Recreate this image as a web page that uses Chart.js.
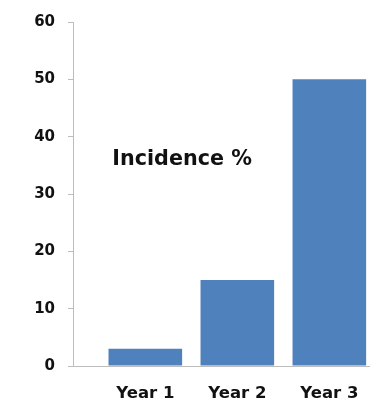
<!DOCTYPE html>
<html>
<head>
<meta charset="utf-8">
<script src="https://cdn.jsdelivr.net/npm/chart.js@4"></script>
<style>
  html, body { margin: 0; padding: 0; background: #ffffff; }
  #wrap { width: 370px; height: 405px; position: relative; }
</style>
</head>
<body>
<div id="wrap"><canvas id="c"></canvas></div>
<script>
const categories = ['Year 1', 'Year 2', 'Year 3'];
const incidence = [3, 15, 50];
const yTickValues = [0, 10, 20, 30, 40, 50, 60];
const annotationText = 'Incidence %';

const FONT = "'DejaVu Sans', sans-serif";
const TEXT = '#111111';
const AXIS = '#bdbdbd';

const annotationPlugin = {
  id: 'incidenceLabel',
  afterDatasetsDraw(chart) {
    const { ctx, scales } = chart;
    const x = scales.x.getPixelForValue(0.4);
    const y = scales.y.getPixelForValue(36);
    ctx.save();
    ctx.font = "bold 20.7px " + FONT;
    ctx.fillStyle = TEXT;
    ctx.textAlign = 'center';
    ctx.textBaseline = 'middle';
    ctx.fillText(annotationText, x, y);
    ctx.restore();
  }
};

new Chart(document.getElementById('c'), {
  type: 'bar',
  data: {
    datasets: [{
      data: incidence.map((v, i) => ({ x: i, y: v })),
      backgroundColor: '#4f81bd',
      borderWidth: 0,
      categoryPercentage: 1,
      barPercentage: 0.8
    }]
  },
  options: {
    responsive: true,
    maintainAspectRatio: false,
    animation: false,
    layout: { padding: { top: 20, right: 0, bottom: 0, left: 0 } },
    plugins: { legend: { display: false }, tooltip: { enabled: false } },
    scales: {
      x: {
        type: 'linear',
        offset: false,
        bounds: 'data',
        min: -0.786,
        max: 2.442,
        grid: { display: false },
        border: { display: true, color: AXIS, width: 1 },
        afterBuildTicks(scale) { scale.ticks = categories.map((c, i) => ({ value: i })); },
        ticks: {
          autoSkip: false,
          maxRotation: 0,
          padding: 10,
          color: TEXT,
          font: { family: FONT, size: 16.5, weight: 'bold' },
          callback: (v) => categories[Math.round(v)] ?? ''
        },
        afterFit(scale) { scale.height = 39; scale.paddingRight = 0; scale.paddingLeft = 0; }
      },
      y: {
        min: yTickValues[0],
        max: yTickValues[yTickValues.length - 1],
        grid: { display: true, drawOnChartArea: false, drawTicks: true, tickLength: 5, color: AXIS },
        border: { display: true, color: AXIS, width: 1 },
        afterBuildTicks(scale) { scale.ticks = yTickValues.map(v => ({ value: v })); },
        ticks: {
          padding: 13,
          color: TEXT,
          font: { family: FONT, size: 15, weight: 'bold' }
        },
        afterFit(scale) { scale.width = 73; }
      }
    }
  },
  plugins: [annotationPlugin]
});
</script>
</body>
</html>
